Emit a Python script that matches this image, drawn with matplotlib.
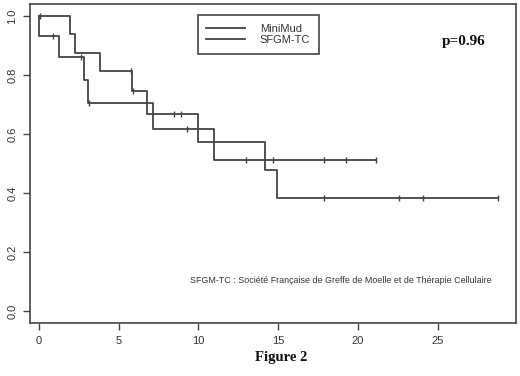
import matplotlib.pyplot as plt

# Kaplan-Meier style step curves
minimud_t = [0, 1.98, 2.3, 3.84, 5.87, 6.77, 9.97, 14.17, 14.9, 28.75]
minimud_s = [1.0, 0.939, 0.875, 0.814, 0.746, 0.668, 0.574, 0.478, 0.383, 0.383]
minimud_cens_t = [5.8, 5.92, 8.5, 8.9, 17.85, 22.6, 24.1, 28.75]
minimud_cens_s = [0.814, 0.746, 0.668, 0.668, 0.383, 0.383, 0.383, 0.383]

sfgm_t = [0, 0.03, 1.25, 2.86, 3.07, 7.15, 10.95, 21.1]
sfgm_s = [1.0, 0.933, 0.859, 0.782, 0.704, 0.617, 0.513, 0.513]
sfgm_cens_t = [0.07, 0.88, 2.65, 3.17, 9.3, 13.0, 14.7, 17.85, 19.27, 21.1]
sfgm_cens_s = [1.0, 0.933, 0.859, 0.704, 0.617, 0.513, 0.513, 0.513, 0.513, 0.513]

xticks = [0, 5, 10, 15, 20, 25]
yticks = [0.0, 0.2, 0.4, 0.6, 0.8, 1.0]

line_col = '#444444'

fig = plt.figure(figsize=(5.2, 3.76), dpi=100)
ax = fig.add_axes([30 / 520, 1 - 323 / 376, 486 / 520, 319 / 376])

ax.step(minimud_t, minimud_s, where='post', color=line_col, lw=1.3, label='MiniMud')
ax.step(sfgm_t, sfgm_s, where='post', color=line_col, lw=1.3, label='SFGM-TC')
ax.plot(minimud_cens_t, minimud_cens_s, ls='none', marker='|', ms=5, mew=1, color=line_col)
ax.plot(sfgm_cens_t, sfgm_cens_s, ls='none', marker='|', ms=5, mew=1, color=line_col)

ax.set_xlim(-0.55, 29.9)
ax.set_ylim(-0.04, 1.04)
ax.set_xticks(xticks)
ax.set_yticks(yticks)
ax.set_xticklabels([str(v) for v in xticks], fontsize=8, color='#333333', family='Liberation Sans')
ax.set_yticklabels(['%.1f' % v for v in yticks], fontsize=8, color='#333333',
                   rotation=90, va='center', family='Liberation Sans')
ax.tick_params(length=5, width=1, color=line_col, pad=4)
for sp in ax.spines.values():
    sp.set_color(line_col)
    sp.set_linewidth(1.2)

leg = ax.legend(loc='upper left', bbox_to_anchor=(167.5 / 486, 1 - 11 / 319),
                frameon=True, fancybox=False, edgecolor=line_col, framealpha=1,
                prop={'family': 'Liberation Sans', 'size': 8},
                handlelength=3.5, handletextpad=1.3, borderpad=0.8,
                borderaxespad=0, labelspacing=0.1)
leg.get_frame().set_linewidth(1.2)
for t in leg.get_texts():
    t.set_color('#333333')

ax.text(0.893, 0.884, 'p=0.96', transform=ax.transAxes, ha='center', va='center',
        fontsize=11, fontweight='bold', family='Liberation Serif', color='#111111')
ax.text(0.329, 0.133, 'SFGM-TC : Société Française de Greffe de Moelle et de Thérapie Cellulaire',
        transform=ax.transAxes, ha='left', va='center', fontsize=6.4,
        family='Liberation Sans', color='#333333')

fig.text(281 / 520, 1 - 357 / 376, 'Figure 2', ha='center', va='center',
         fontsize=10.5, fontweight='bold', family='Liberation Serif', color='#111111')

fig.savefig('out.png', dpi=100)
